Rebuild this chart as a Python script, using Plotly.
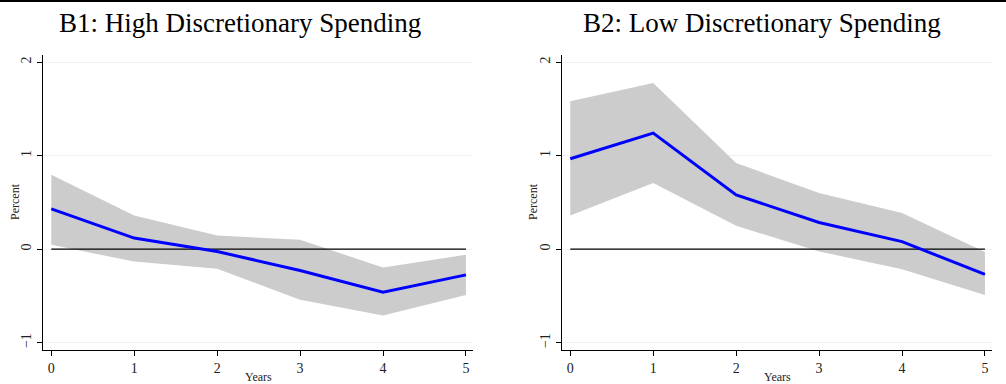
import plotly.graph_objects as go

years = [0, 1, 2, 3, 4, 5]

# Panel B1: High Discretionary Spending
b1_est = [0.43, 0.118, -0.025, -0.228, -0.46, -0.275]
b1_upper = [0.795, 0.36, 0.146, 0.10, -0.197, -0.06]
b1_lower = [0.046, -0.133, -0.21, -0.54, -0.71, -0.49]

# Panel B2: Low Discretionary Spending
b2_est = [0.966, 1.24, 0.58, 0.285, 0.08, -0.27]
b2_upper = [1.58, 1.775, 0.92, 0.60, 0.385, -0.03]
b2_lower = [0.36, 0.706, 0.25, -0.025, -0.214, -0.49]

titles = ["B1: High Discretionary Spending", "B2: Low Discretionary Spending"]
y_ticks = [-1, 0, 1, 2]
x_ticks = [0, 1, 2, 3, 4, 5]

W, H = 1006, 384
SERIF = "Liberation Serif, Times New Roman, serif"

fig = go.Figure()

panels = [
    (b1_est, b1_upper, b1_lower, "x", "y"),
    (b2_est, b2_upper, b2_lower, "x2", "y2"),
]

for est, up, lo, xa, ya in panels:
    fig.add_trace(go.Scatter(x=years, y=up, mode="lines", line=dict(width=0, color="#cccccc"),
                             xaxis=xa, yaxis=ya, showlegend=False, hoverinfo="skip"))
    fig.add_trace(go.Scatter(x=years, y=lo, mode="lines", line=dict(width=0, color="#cccccc"),
                             fill="tonexty", fillcolor="#cccccc",
                             xaxis=xa, yaxis=ya, showlegend=False, hoverinfo="skip"))
    fig.add_trace(go.Scatter(x=[years[0], years[-1]], y=[0, 0], mode="lines",
                             line=dict(width=1.2, color="black"),
                             xaxis=xa, yaxis=ya, showlegend=False, hoverinfo="skip"))
    fig.add_trace(go.Scatter(x=years, y=est, mode="lines", line=dict(width=3, color="#0000ff"),
                             xaxis=xa, yaxis=ya, showlegend=False))

ydom = [(H - 350) / H, (H - 55) / H]
xdoms = [[43 / W, 473 / W], [562 / W, 992 / W]]

axis_common_x = dict(range=[-0.1, 5.085], tickvals=x_ticks, ticks="outside", ticklen=5,
                     tickcolor="black", showline=True, linecolor="black", linewidth=1,
                     showgrid=False, zeroline=False,
                     tickfont=dict(family=SERIF, size=14, color="#222"))
axis_common_y = dict(range=[-1.078, 2.075], tickvals=y_ticks, ticks="outside", ticklen=5,
                     tickcolor="black", showline=True, linecolor="black", linewidth=1,
                     showgrid=True, gridcolor="#eaf2f3", gridwidth=1, zeroline=False,
                     tickangle=-90,
                     tickfont=dict(family=SERIF, size=14, color="#222"))

fig.update_layout(
    width=W, height=H,
    margin=dict(l=0, r=0, t=0, b=0),
    paper_bgcolor="white", plot_bgcolor="white",
    xaxis=dict(domain=xdoms[0], anchor="y", **axis_common_x),
    yaxis=dict(domain=ydom, anchor="x", **axis_common_y),
    xaxis2=dict(domain=xdoms[1], anchor="y2", **axis_common_x),
    yaxis2=dict(domain=ydom, anchor="x2", **axis_common_y),
)

for i, t in enumerate(titles):
    cx = [240, 762][i]
    fig.add_annotation(text=t, x=cx / W, y=(H - 23) / H, xref="paper", yref="paper",
                       xanchor="center", yanchor="middle", showarrow=False,
                       font=dict(family=SERIF, size=27, color="black"))
    # axis titles
    px = [15, 533][i]
    fig.add_annotation(text="Percent", x=px / W, y=(H - 202) / H, xref="paper", yref="paper",
                       xanchor="center", yanchor="middle", showarrow=False, textangle=-90,
                       font=dict(family=SERIF, size=12, color="#222"))
    yx = [258, 777][i]
    fig.add_annotation(text="Years", x=yx / W, y=(H - 377) / H, xref="paper", yref="paper",
                       xanchor="center", yanchor="middle", showarrow=False,
                       font=dict(family=SERIF, size=12, color="#222"))

fig.add_shape(type="line", xref="paper", yref="paper", x0=0, x1=1, y0=1 - 1 / H, y1=1 - 1 / H,
              line=dict(color="black", width=2))

fig.write_html("out.html")
